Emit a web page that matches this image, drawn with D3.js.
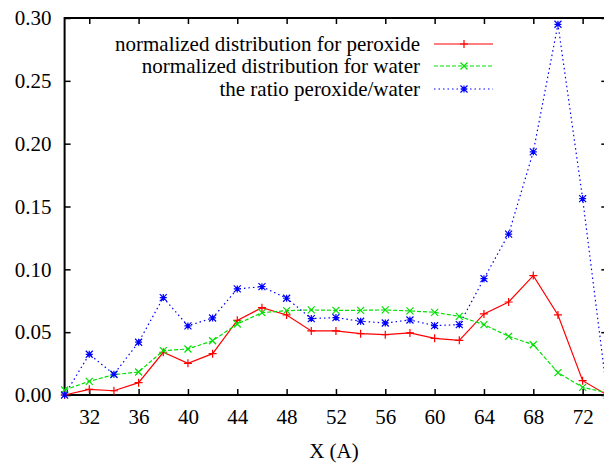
<!DOCTYPE html>
<html>
<head>
<meta charset="utf-8">
<script src="https://cdn.jsdelivr.net/npm/d3@7"></script>
</head>
<body style="margin:0">
<svg id="chart" width="604" height="463"></svg>
<script>
// Distance along X (A), sampled every 2 A
const xValues = [30, 32, 34, 36, 38, 40, 42, 44, 46, 48, 50, 52, 54, 56, 58, 60, 62, 64, 66, 68, 70, 72, 74];

const peroxide = [0.0, 0.0045, 0.0034, 0.0098, 0.034, 0.0252, 0.0329, 0.0594, 0.0695, 0.0637, 0.051,
  0.051, 0.0488, 0.048, 0.0494, 0.0451, 0.0435, 0.0645, 0.074, 0.095, 0.0637, 0.0114, 0.0];

const water = [0.004, 0.0109, 0.0162, 0.0183, 0.0353, 0.0366, 0.0432, 0.0565, 0.0655, 0.0671, 0.0677,
  0.0674, 0.0674, 0.0677, 0.0669, 0.0658, 0.0626, 0.056, 0.0467, 0.040, 0.0178, 0.0061, 0.0018];

const ratio = [0.0, 0.0324, 0.0165, 0.042, 0.0775, 0.055, 0.0613, 0.0844, 0.0862, 0.077, 0.0608,
  0.0616, 0.0587, 0.0573, 0.0597, 0.0552, 0.056, 0.0926, 0.128, 0.1935, 0.295, 0.1563, 0.0];

const seriesNames = [
  "normalized distribution for peroxide",
  "normalized distribution for water",
  "the ratio peroxide/water"
];

const xTicks = [32, 36, 40, 44, 48, 52, 56, 60, 64, 68, 72];
const yTicks = [0.00, 0.05, 0.10, 0.15, 0.20, 0.25, 0.30];

const series = [
  { name: seriesNames[0], values: peroxide, color: "#ff0000", dash: null, marker: "plus" },
  { name: seriesNames[1], values: water, color: "#00e000", dash: "4,2", marker: "cross" },
  { name: seriesNames[2], values: ratio, color: "#0000ff", dash: "1.5,3", marker: "star" }
];

const fontSize = 21;

const svg = d3.select("#chart");
const margin = { left: 64.6, right: 607.3, top: 18, bottom: 395 };

const x = d3.scaleLinear().domain([30, 74]).range([margin.left, margin.right]);
const y = d3.scaleLinear().domain([0, 0.30]).range([margin.bottom, margin.top]);

const tickLen = 6;

// Serif label helper
function serif(sel) {
  return sel
    .attr("font-family", "Liberation Serif")
    .style("font-family", "Tinos, 'Liberation Serif', 'Times New Roman', Times, serif")
    .attr("font-size", fontSize)
    .attr("fill", "#000");
}

// Axes: bottom/left with labels, top/right as mirrored inward ticks
const gx = svg.append("g").attr("transform", `translate(0,${margin.bottom})`)
  .call(d3.axisBottom(x).tickValues(xTicks).tickFormat(d3.format("d")).tickSizeInner(-tickLen).tickSizeOuter(0).tickPadding(14));
const gy = svg.append("g").attr("transform", `translate(${margin.left},0)`)
  .call(d3.axisLeft(y).tickValues(yTicks).tickFormat(d3.format(".2f")).tickSizeInner(-tickLen).tickSizeOuter(0).tickPadding(13));
const gxt = svg.append("g").attr("transform", `translate(0,${margin.top})`)
  .call(d3.axisTop(x).tickValues(xTicks).tickFormat("").tickSizeInner(-tickLen).tickSizeOuter(0));
const gyr = svg.append("g").attr("transform", `translate(${margin.right},0)`)
  .call(d3.axisRight(y).tickValues(yTicks).tickFormat("").tickSizeInner(-tickLen).tickSizeOuter(0));

[gx, gy, gxt, gyr].forEach(g => {
  g.attr("font-family", "Liberation Serif").attr("font-size", fontSize);
  g.select(".domain").remove();
  g.selectAll(".tick line").attr("stroke", "#000").attr("stroke-width", 1.5);
  serif(g.selectAll(".tick text"));
});

// Plot border
svg.append("rect")
  .attr("x", margin.left).attr("y", margin.top)
  .attr("width", margin.right - margin.left).attr("height", margin.bottom - margin.top)
  .attr("fill", "none").attr("stroke", "#000").attr("stroke-width", 2);

// Axis title
serif(svg.append("text"))
  .attr("x", (margin.left + margin.right) / 2 - 2)
  .attr("y", 458)
  .attr("text-anchor", "middle")
  .text("X (A)");

// Marker shapes
function markerPath(type, s) {
  const p = d3.path();
  if (type === "plus" || type === "star") {
    p.moveTo(-s, 0); p.lineTo(s, 0);
    p.moveTo(0, -s); p.lineTo(0, s);
  }
  if (type === "cross" || type === "star") {
    p.moveTo(-s, -s); p.lineTo(s, s);
    p.moveTo(-s, s); p.lineTo(s, -s);
  }
  return p.toString();
}

svg.append("defs").append("clipPath").attr("id", "plotclip")
  .append("rect").attr("x", margin.left - 10).attr("y", margin.top - 10)
  .attr("width", margin.right - margin.left + 20).attr("height", margin.bottom - margin.top + 20);

const line = d3.line().x((d, i) => x(xValues[i])).y(d => y(d));

const plot = svg.append("g").attr("clip-path", "url(#plotclip)");

series.forEach(s => {
  plot.append("path")
    .datum(s.values)
    .attr("d", line)
    .attr("fill", "none")
    .attr("stroke", s.color)
    .attr("stroke-width", 1.2)
    .attr("stroke-dasharray", s.dash);
  plot.selectAll(null)
    .data(s.values)
    .enter().append("path")
    .attr("transform", (d, i) => `translate(${x(xValues[i])},${y(d)})`)
    .attr("d", markerPath(s.marker, s.marker === "plus" ? 4 : 3.5))
    .attr("fill", "none")
    .attr("stroke", s.color)
    .attr("stroke-width", 1.2);
});

// Legend
const legend = svg.append("g");
const legendRows = [44, 66, 89];
series.forEach((s, i) => {
  const ly = legendRows[i];
  serif(legend.append("text"))
    .attr("x", 420).attr("y", ly)
    .attr("dy", "0.33em")
    .attr("text-anchor", "end")
    .text(s.name);
  legend.append("line")
    .attr("x1", 434).attr("x2", 493).attr("y1", ly).attr("y2", ly)
    .attr("stroke", s.color).attr("stroke-width", 1.2)
    .attr("stroke-dasharray", s.dash);
  legend.append("path")
    .attr("transform", `translate(464,${ly})`)
    .attr("d", markerPath(s.marker, s.marker === "plus" ? 4 : 3.5))
    .attr("fill", "none").attr("stroke", s.color).attr("stroke-width", 1.2);
});
</script>
</body>
</html>
